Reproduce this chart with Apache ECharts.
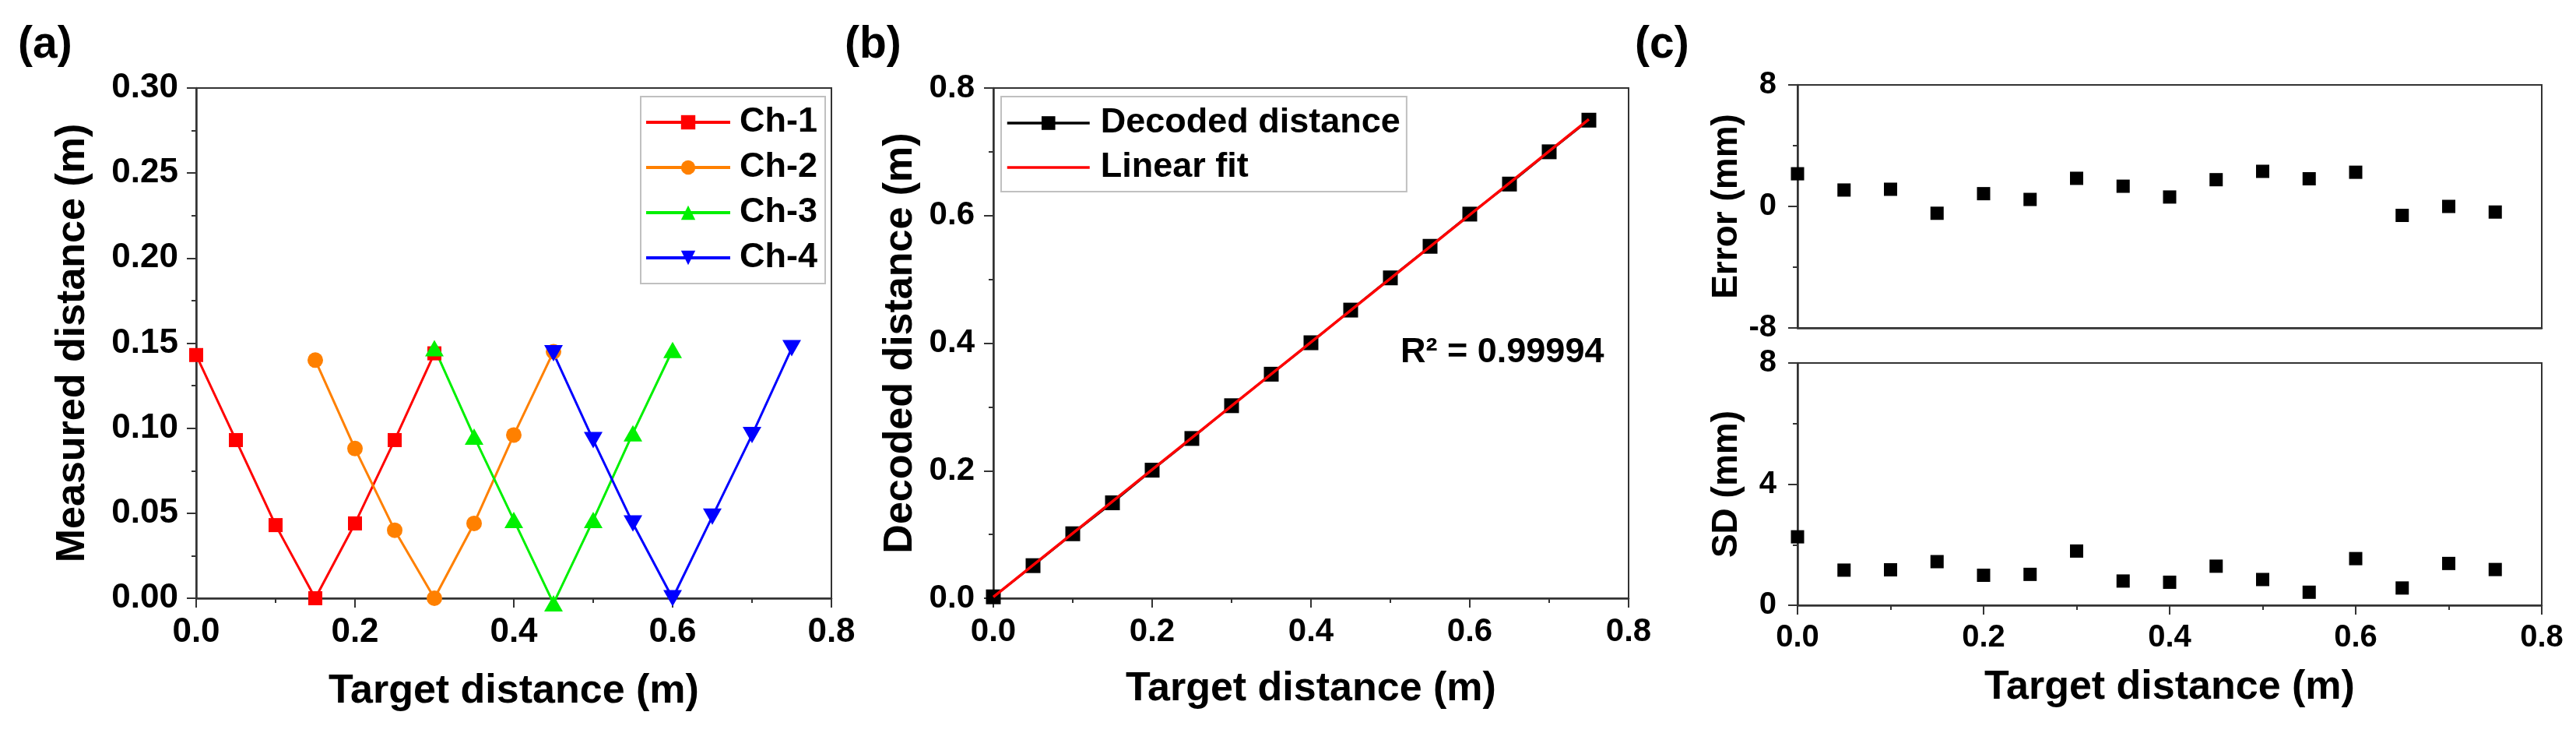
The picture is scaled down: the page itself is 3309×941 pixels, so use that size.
<!DOCTYPE html>
<html>
<head>
<meta charset="utf-8">
<title>Distance measurement</title>
<script src="https://cdn.jsdelivr.net/npm/echarts@6/dist/echarts.min.js"></script>
<style>
  html, body { margin: 0; padding: 0; background: #fff; }
  #chart { width: 3309px; height: 941px; }
</style>
</head>
<body>
<div id="chart"></div>
<script>
// target positions (m)
var target = [0, 0.05, 0.10, 0.15, 0.20, 0.25, 0.30, 0.35, 0.40, 0.45, 0.50, 0.55, 0.60, 0.65, 0.70, 0.75];

// (a) measured distance per channel (m)
var ch1X = [0, 0.05, 0.10, 0.15, 0.20, 0.25, 0.30];
var ch1Y = [0.143, 0.093, 0.043, 0.000, 0.044, 0.093, 0.144];
var ch2X = [0.15, 0.20, 0.25, 0.30, 0.35, 0.40, 0.45];
var ch2Y = [0.140, 0.088, 0.040, 0.000, 0.044, 0.096, 0.145];
var ch3X = [0.30, 0.35, 0.40, 0.45, 0.50, 0.55, 0.60];
var ch3Y = [0.147, 0.095, 0.046, -0.003, 0.046, 0.097, 0.146];
var ch4X = [0.45, 0.50, 0.55, 0.60, 0.65, 0.70, 0.75];
var ch4Y = [0.144, 0.093, 0.044, 0.000, 0.048, 0.096, 0.147];

// (b) decoded distance (m) and linear fit end points
var decoded = [0.0022, 0.0511, 0.1011, 0.1496, 0.2008, 0.2505, 0.3019, 0.3513,
               0.4006, 0.4518, 0.5023, 0.5518, 0.6023, 0.6494, 0.7000, 0.7496];
var fitX = [0, 0.75];
var fitY = [0.002, 0.751];
var r2Text = 'R\u00B2 = 0.99994';

// (c) error and SD (mm)
var errorMm = [2.15, 1.08, 1.13, -0.45, 0.84, 0.46, 1.85, 1.33, 0.62, 1.76, 2.31, 1.82, 2.25, -0.59, 0.00, -0.37];
var sdMm = [2.26, 1.16, 1.17, 1.44, 0.99, 1.02, 1.79, 0.80, 0.76, 1.29, 0.85, 0.43, 1.54, 0.57, 1.38, 1.18];

var FONT = '"Liberation Sans", Arial, sans-serif';

function pairs(xs, ys) {
  var out = [];
  for (var i = 0; i < xs.length; i++) {
    out.push([xs[i], ys[i]]);
  }
  return out;
}

function makeX(gridIndex, opts) {
  return {
    type: 'value', gridIndex: gridIndex, min: 0, max: 0.8, interval: 0.2,
    name: opts.name || '', nameLocation: 'middle', nameGap: opts.nameGap || 90,
    nameTextStyle: { fontFamily: FONT, fontWeight: 'bold', fontSize: 52, color: '#000' },
    axisLine: { show: true, onZero: false, lineStyle: { color: '#333', width: 2.5 } },
    axisTick: { show: opts.ticks !== false, length: 12, lineStyle: { color: '#333', width: 2 } },
    minorTick: { show: opts.ticks !== false, splitNumber: 2, length: 6, lineStyle: { color: '#333', width: 2 } },
    splitLine: { show: false },
    axisLabel: {
      show: opts.labels !== false, margin: 22, fontFamily: FONT, fontWeight: 'bold',
      fontSize: opts.labelSize || 44, color: '#000',
      formatter: function (v) { return v.toFixed(1); }
    }
  };
}

function makeY(gridIndex, opts) {
  return {
    type: 'value', gridIndex: gridIndex, min: opts.min, max: opts.max, interval: opts.interval,
    name: opts.name, nameLocation: 'middle', nameGap: opts.nameGap,
    nameTextStyle: { fontFamily: FONT, fontWeight: 'bold', fontSize: opts.nameSize || 52, color: '#000' },
    axisLine: { show: true, onZero: false, lineStyle: { color: '#333', width: 2.5 } },
    axisTick: { show: true, length: 12, lineStyle: { color: '#333', width: 2 } },
    minorTick: { show: true, splitNumber: 2, length: 6, lineStyle: { color: '#333', width: 2 } },
    splitLine: { show: false },
    axisLabel: {
      margin: opts.margin || 23, fontFamily: FONT, fontWeight: 'bold',
      fontSize: opts.labelSize || 44, color: '#000',
      formatter: opts.formatter
    }
  };
}

function chLine(name, xs, ys, color, symbol, size) {
  return {
    name: name, type: 'line', xAxisIndex: 0, yAxisIndex: 0,
    data: pairs(xs, ys), clip: false,
    symbol: symbol, symbolSize: size,
    lineStyle: { color: color, width: 3 },
    itemStyle: { color: color, opacity: 1 }
  };
}

var gridStyle = { show: true, borderColor: '#333', borderWidth: 2, backgroundColor: 'transparent' };

var legendText = { fontFamily: FONT, fontSize: 45, fontWeight: 'bold', color: '#000', lineHeight: 50 };

var chart = echarts.init(document.getElementById('chart'), null, { renderer: 'canvas' });

var option = {
  animation: false,
  backgroundColor: '#fff',
  textStyle: { fontFamily: FONT },
  grid: [
    Object.assign({ left: 252, top: 113, width: 816, height: 655 }, gridStyle),
    Object.assign({ left: 1276, top: 113, width: 816, height: 655 }, gridStyle),
    Object.assign({ left: 2309, top: 109, width: 956, height: 312 }, gridStyle),
    Object.assign({ left: 2309, top: 466, width: 956, height: 311 }, gridStyle)
  ],
  xAxis: [
    makeX(0, { name: 'Target distance (m)', nameGap: 94 }),
    makeX(1, { name: 'Target distance (m)', nameGap: 91, labelSize: 42 }),
    makeX(2, { labels: false, ticks: false }),
    makeX(3, { name: 'Target distance (m)', nameGap: 80, labelSize: 40 })
  ],
  yAxis: [
    makeY(0, { min: 0, max: 0.3, interval: 0.05, name: 'Measured distance (m)', nameGap: 132,
               formatter: function (v) { return v.toFixed(2); } }),
    makeY(1, { min: 0, max: 0.8, interval: 0.2, name: 'Decoded distance (m)', nameGap: 93, margin: 24,
               labelSize: 42, formatter: function (v) { return v.toFixed(1); } }),
    makeY(2, { min: -8, max: 8, interval: 8, name: 'Error (mm)', nameGap: 68, nameSize: 46,
               margin: 27, labelSize: 40 }),
    makeY(3, { min: 0, max: 8, interval: 4, name: 'SD (mm)', nameGap: 68, nameSize: 46,
               margin: 27, labelSize: 40 })
  ],
  legend: [
    {
      data: ['Ch-1', 'Ch-2', 'Ch-3', 'Ch-4'],
      orient: 'vertical', left: 823, top: 124,
      itemWidth: 108, itemHeight: 23, itemGap: 8,
      padding: [8, 10, 8, 5], borderColor: '#c0c0c0', borderWidth: 2,
      lineStyle: { width: 4 },
      textStyle: Object.assign({ padding: [0, 0, 0, 7] }, legendText)
    },
    {
      data: [
        { name: 'Decoded distance' },
        { name: 'Linear fit', itemStyle: { opacity: 0 } }
      ],
      orient: 'vertical', left: 1286, top: 124,
      itemWidth: 106, itemHeight: 22, itemGap: 7,
      padding: [9, 8, 6, 6], borderColor: '#c0c0c0', borderWidth: 2,
      lineStyle: { width: 3.5 },
      textStyle: Object.assign({ padding: [0, 0, 0, 9] }, legendText)
    }
  ],
  graphic: [
    { type: 'text', left: 23, top: 30, style: { text: '(a)', font: 'bold 57px ' + FONT, fill: '#000' } },
    { type: 'text', left: 1085, top: 30, style: { text: '(b)', font: 'bold 57px ' + FONT, fill: '#000' } },
    { type: 'text', left: 2100, top: 30, style: { text: '(c)', font: 'bold 57px ' + FONT, fill: '#000' } },
    { type: 'text', left: 1799, top: 430, style: { text: r2Text, font: 'bold 45px ' + FONT, fill: '#000' } }
  ],
  series: [
    chLine('Ch-1', ch1X, ch1Y, '#ff0000', 'rect', 18),
    chLine('Ch-2', ch2X, ch2Y, '#ff8000', 'circle', 20),
    chLine('Ch-3', ch3X, ch3Y, '#00f000', 'triangle', [24, 21]),
    chLine('Ch-4', ch4X, ch4Y, '#0000ff', 'path://M0,0 L10,0 L5,9 Z', [24, 21]),
    {
      name: 'Decoded distance', type: 'line', xAxisIndex: 1, yAxisIndex: 1,
      data: pairs(target, decoded), clip: false,
      symbol: 'rect', symbolSize: 19,
      lineStyle: { color: '#000', width: 2.5 }, itemStyle: { color: '#000', opacity: 1 }
    },
    {
      name: 'Linear fit', type: 'line', xAxisIndex: 1, yAxisIndex: 1,
      data: pairs(fitX, fitY), symbol: 'none', z: 5,
      lineStyle: { color: '#ff0000', width: 3.5 }, itemStyle: { color: '#ff0000' }
    },
    {
      name: 'Error', type: 'scatter', xAxisIndex: 2, yAxisIndex: 2,
      data: pairs(target, errorMm), symbol: 'rect', symbolSize: 17, clip: false,
      itemStyle: { color: '#000', opacity: 1 }
    },
    {
      name: 'SD', type: 'scatter', xAxisIndex: 3, yAxisIndex: 3,
      data: pairs(target, sdMm), symbol: 'rect', symbolSize: 17, clip: false,
      itemStyle: { color: '#000', opacity: 1 }
    }
  ]
};

chart.setOption(option);
</script>
</body>
</html>
